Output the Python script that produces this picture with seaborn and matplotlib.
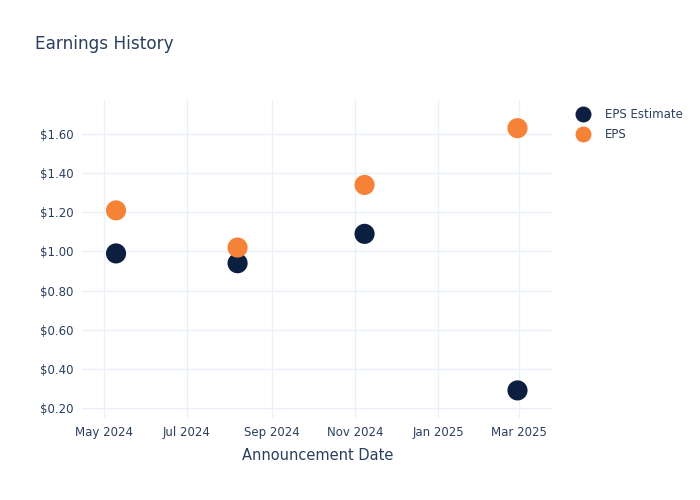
import pandas as pd
import numpy as np
import matplotlib
matplotlib.use("Agg")
import matplotlib.pyplot as plt
import matplotlib.dates as mdates
from matplotlib.ticker import FuncFormatter
import seaborn as sns

# datos
fechas = ["2024-05-10", "2024-08-07", "2024-11-08", "2025-02-28"]
eps_estimate = [0.99, 0.94, 1.09, 0.29]
eps_real = [1.21, 1.02, 1.34, 1.63]
series = ["EPS Estimate", "EPS"]
colores = ["#0c1f40", "#f58236"]

df = pd.DataFrame({
    "fecha": pd.to_datetime(fechas * 2),
    "valor": eps_estimate + eps_real,
    "serie": [series[0]] * len(fechas) + [series[1]] * len(fechas),
})

sns.set_style("white")
plt.rcParams["font.family"] = ["DejaVu Sans"]
texto = "#2a3f5f"

fig = plt.figure(figsize=(7, 5), dpi=100)
ax = fig.add_axes([0.117, 0.164, 0.673, 0.636])

sns.scatterplot(data=df, x="fecha", y="valor", hue="serie", hue_order=series,
                palette=colores, s=210, edgecolor="none", ax=ax, legend=False, zorder=3)

ax.set_xlim(pd.Timestamp("2024-04-15"), pd.Timestamp("2025-03-26"))
ax.set_ylim(0.149, 1.774)
ax.set_yticks([0.2, 0.4, 0.6, 0.8, 1.0, 1.2, 1.4, 1.6])
ax.yaxis.set_major_formatter(FuncFormatter(lambda v, p: f"${v:.2f}"))
ax.xaxis.set_major_locator(mdates.MonthLocator(bymonth=[1, 3, 5, 7, 9, 11]))
ax.xaxis.set_major_formatter(mdates.DateFormatter("%b %Y"))

ax.grid(True, color="#ebf0f8", linewidth=1, zorder=0)
ax.set_axisbelow(True)
for sp in ax.spines.values():
    sp.set_visible(False)
ax.tick_params(axis="both", length=0, labelsize=8.5, colors=texto, pad=6)

ax.set_xlabel("Announcement Date", fontsize=10.5, color=texto, labelpad=6)
ax.set_ylabel("")
fig.text(0.05, 0.912, "Earnings History", fontsize=12.2, color=texto, va="center")

# leyenda a la derecha
handles = [plt.Line2D([], [], marker="o", linestyle="", markersize=11.5,
                      markerfacecolor=c, markeredgecolor="none") for c in colores]
fig.legend(handles, series, loc="upper left", bbox_to_anchor=(0.813, 0.793),
           frameon=False, fontsize=8.5, labelcolor=texto, handletextpad=1.1,
           labelspacing=0.55, borderaxespad=0, handlelength=1.5)

fig.savefig("out.png", dpi=100)
